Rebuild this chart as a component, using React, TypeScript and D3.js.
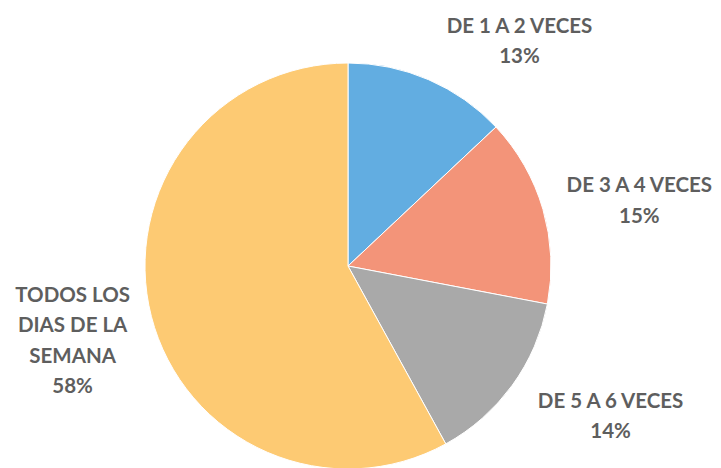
import React from 'react';
import * as d3 from 'd3';

const categories = ['DE 1 A 2 VECES', 'DE 3 A 4 VECES', 'DE 5 A 6 VECES', 'TODOS LOS DIAS DE LA SEMANA'];
const values = [13, 15, 14, 58];
const labelLines = [
  ['DE 1 A 2 VECES', '13%'],
  ['DE 3 A 4 VECES', '15%'],
  ['DE 5 A 6 VECES', '14%'],
  ['TODOS LOS', 'DIAS DE LA', 'SEMANA', '58%'],
];
const colors = ['#62ADE1', '#F39479', '#A9A9A9', '#FDCA73'];

const width = 721;
const height = 468;
const cx = 348;
const cy = 266;
const radius = 203;
const lineH = 30.5;

// offsets of each label block centre from the slice centroid at the outer ring
const labelOffsets = [
  [75, -2],
  [58, 2],
  [66, 7],
  [-40, 14],
];

export default function App() {
  const pie = d3.pie<number>().sort(null).value(d => d)(values);
  const arc = d3.arc<d3.PieArcDatum<number>>().innerRadius(0).outerRadius(radius);
  const outer = d3.arc<d3.PieArcDatum<number>>().innerRadius(radius + 40).outerRadius(radius + 40);

  return (
    <svg width={width} height={height} style={{ position: 'absolute', left: 0, top: 0, background: '#fff' }}>
      <g transform={`translate(${cx},${cy})`}>
        {pie.map((p, i) => (
          <path key={categories[i]} d={arc(p) || ''} fill={colors[i]} stroke="#fff" strokeWidth={1} />
        ))}
        {pie.map((p, i) => {
          const [ox, oy] = outer.centroid(p);
          const lines = labelLines[i];
          const x = ox + labelOffsets[i][0];
          const y0 = oy + labelOffsets[i][1] - ((lines.length - 1) * lineH) / 2;
          return (
            <text key={'l' + i} textAnchor="middle" fontFamily="Lato" fontWeight="bold" fontSize={20.5} fill="#5e5e5e">
              {lines.map((t, j) => (
                <tspan key={j} x={x} y={y0 + j * lineH} dy="0.35em">{t}</tspan>
              ))}
            </text>
          );
        })}
      </g>
    </svg>
  );
}
